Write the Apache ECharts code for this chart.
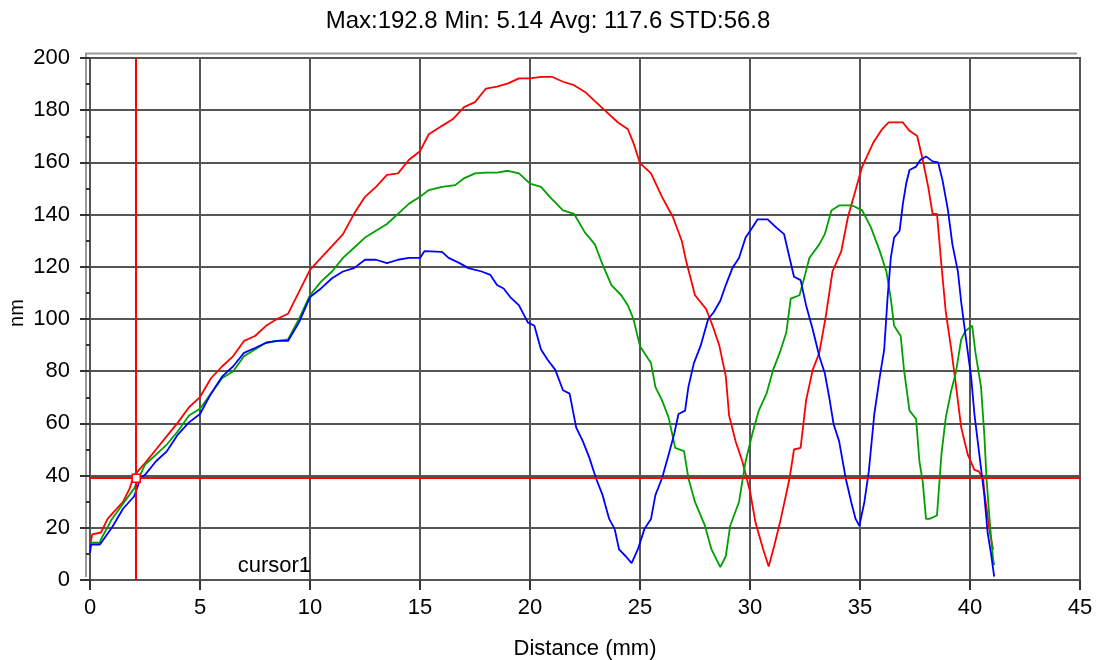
<!DOCTYPE html>
<html>
<head>
<meta charset="utf-8">
<script src="https://cdn.jsdelivr.net/npm/echarts@6/dist/echarts.min.js"></script>
<style>
  html, body { margin: 0; padding: 0; background: #ffffff; }
  #chart { width: 1096px; height: 660px; }
</style>
</head>
<body>
<div id="chart"></div>
<script>
// Profile heights (nm) along the scan distance (mm), one list per trace.
const redProfile = [
  [0,13],[0.1,17.5],[0.5,18.2],[0.8,23.4],[1,25.3],[1.5,29.9],[1.8,35],[2,40],[2.5,44.8],[3,50],
  [3.5,55.2],[4,60.4],[4.5,66.2],[5,70.1],[5.5,77.3],[6,81.8],[6.5,85.7],[7,91.6],[7.5,93.5],[8,97.4],
  [8.5,100],[9,102],[9.5,110.4],[10,118.8],[10.5,123.4],[11,127.9],[11.5,132.5],[12,140.3],[12.5,146.8],[13,150.6],
  [13.5,155.2],[14,155.8],[14.5,161],[15,164.3],[15.4,170.8],[16,174],[16.5,176.6],[17,181.2],[17.5,183.1],[18,188.3],
  [18.5,189],[19,190.3],[19.5,192.2],[20,192.2],[20.5,192.8],[21,192.8],[21.5,190.9],[22,189.6],[22.5,187],[23,183.1],
  [23.5,179.2],[24,175.3],[24.45,172.7],[24.7,167.5],[25,159.7],[25.5,155.8],[26,146.8],[26.5,139],[26.9,129.9],[27.1,122.1],
  [27.5,109.1],[28,103.9],[28.3,97.4],[28.6,90],[28.9,78],[29.05,63],[29.35,53],[29.65,45.5],[30,34],[30.25,22],
  [30.6,11.7],[30.85,5.14],[31.1,13],[31.4,23.4],[31.8,39],[32,50],[32.3,50.6],[32.55,68.8],[32.85,80.5],[33.15,87],
  [33.45,101.3],[33.75,118.2],[34.15,126],[34.45,139],[34.8,149.4],[35.1,158.4],[35.6,167.5],[36,172.7],[36.3,175.3],[36.95,175.3],
  [37.25,172.1],[37.6,170.1],[37.85,161],[38.1,150.6],[38.3,140.3],[38.5,140.3],[38.7,120.8],[38.9,102.6],[39.15,88.3],[39.35,75.3],
  [39.6,58.4],[39.9,48],[40.2,42.2],[40.4,41.6],[40.6,39],[40.65,33.8],[40.9,18.2],[41.05,11.7]
];

const greenProfile = [
  [0,14.3],[0.45,14.3],[0.5,15.6],[1,23.4],[1.5,29.2],[2,35],[2.5,44.2],[3,48],[3.5,52],[4,57.1],
  [4.5,63],[5,65.6],[5.5,71.4],[6,77.3],[6.5,79.9],[7,85.7],[7.5,88.3],[8,90.9],[8.5,91.6],[9,92.2],
  [9.5,100],[10,109.1],[10.5,114.3],[11,118.2],[11.5,123.4],[12,127.3],[12.5,131.2],[13,133.8],[13.5,136.4],[14,140.3],
  [14.5,144.2],[15,146.8],[15.4,149.4],[16,150.6],[16.6,151.3],[17,153.9],[17.5,155.8],[18,156.1],[18.5,156.1],[19,156.8],
  [19.5,155.8],[20,151.9],[20.5,150.6],[20.9,146.8],[21.5,141.6],[22,140.3],[22.5,133.1],[22.95,128.6],[23.3,120.8],[23.7,113],
  [24.15,109.1],[24.45,105.2],[24.7,100],[25,89.6],[25.5,83.1],[25.7,74],[26,68.8],[26.3,62.3],[26.6,50.6],[27,49.4],
  [27.2,39],[27.5,29.9],[27.95,20.8],[28.25,11.7],[28.65,4.9],[28.9,9.1],[29.1,20.8],[29.5,29.9],[29.8,45.5],[30.1,55.8],
  [30.4,64.9],[30.75,71.4],[31.05,80.5],[31.35,87],[31.65,94.8],[31.85,107.8],[32.25,109.1],[32.5,116.9],[32.7,123.4],[33.15,128.6],
  [33.4,132.5],[33.7,141.6],[34.05,143.5],[34.65,143.5],[35.1,141.6],[35.5,135],[35.9,126],[36.2,118.2],[36.4,107.8],[36.55,97.4],
  [36.85,93.5],[37,80.5],[37.25,64.9],[37.55,61.7],[37.7,45.5],[37.85,37.7],[38,23.4],[38.15,23.4],[38.5,24.7],[38.7,48],
  [38.9,62.3],[39.15,72.7],[39.35,79.2],[39.6,92.2],[39.8,95.5],[40.1,97.4],[40.25,87],[40.5,74],[40.65,55.8],[40.75,39],
  [40.9,22],[41.05,8],[41.1,5.7]
];

const blueProfile = [
  [0,10.4],[0.05,13.6],[0.45,13.6],[0.5,14.3],[1,20.1],[1.5,27.3],[2,32],[2.3,39],[2.5,40.3],[3,45.5],
  [3.5,49.4],[4,55.8],[4.5,60.4],[5,63.6],[5.5,71.4],[6,77.9],[6.5,81.8],[7,87],[7.5,88.9],[8,90.9],
  [8.5,91.6],[9,91.6],[9.5,98.7],[10,108.4],[10.5,111.7],[11,115.6],[11.5,118.2],[12,119.5],[12.5,122.7],[13,122.7],
  [13.5,121.4],[14,122.7],[14.5,123.4],[15,123.4],[15.2,126],[16,125.7],[16.3,123.4],[16.8,121.4],[17.2,119.5],[17.8,118.2],
  [18.2,116.9],[18.5,113],[18.8,111.7],[19.1,108.4],[19.5,105.2],[19.9,98.7],[20.2,97.4],[20.5,88.3],[20.8,84.4],[21.15,80.5],
  [21.5,72.7],[21.8,71.4],[22.1,58.4],[22.4,53.2],[22.7,46.8],[23,39],[23.3,32.5],[23.6,23.4],[23.85,19.5],[24.05,11.7],
  [24.35,9.1],[24.62,6.5],[24.9,11.7],[25.2,19.5],[25.5,23.4],[25.7,32.5],[26,39],[26.3,48],[26.55,55.8],[26.75,63.6],
  [27.05,64.9],[27.2,74],[27.45,83.1],[27.75,89.6],[28.1,100],[28.35,102.6],[28.65,107],[28.9,113],[29.2,119.5],[29.5,123.4],
  [29.8,131.2],[30.1,135],[30.35,138.2],[30.8,138.2],[31.2,135],[31.55,132.5],[31.8,123.4],[32,116.2],[32.3,114.9],[32.55,105.2],
  [32.85,96.1],[33.15,85.7],[33.4,79.2],[33.6,70.1],[33.8,59.7],[34.05,53.2],[34.35,39],[34.6,29.9],[34.8,23.4],[34.97,20.8],
  [35.2,29.9],[35.4,41.6],[35.65,63.6],[35.9,77.9],[36.1,88.3],[36.25,107.8],[36.4,123.4],[36.55,131.2],[36.8,133.8],[36.95,144.2],
  [37.1,151.9],[37.25,157.1],[37.55,158.4],[37.75,161],[38,162.3],[38.3,160.4],[38.55,160],[38.75,153.2],[39,141.6],[39.2,128.6],
  [39.45,118.2],[39.6,106.5],[39.8,93.5],[40.05,77.9],[40.2,63.6],[40.35,53.2],[40.5,42.9],[40.65,32.5],[40.8,18.2],[40.95,10.4],
  [41.1,1.3]
];

// Cursor position (distance mm, height nm) and the summary line above the plot.
const cursorPos = [2.1, 39];
const cursorName = 'cursor1';
const statsText = 'Max:192.8 Min: 5.14 Avg: 117.6 STD:56.8';
const xAxisTitle = 'Distance (mm)';
const yAxisTitle = 'nm';

const FONT = '"Liberation Sans", Arial, sans-serif';
const GRID = { left: 90, right: 16, top: 58, bottom: 80 };

const chart = echarts.init(document.getElementById('chart'), null, { renderer: 'canvas' });

function traceSeries(name, data, color) {
  return {
    name: name,
    type: 'line',
    data: data,
    showSymbol: false,
    symbol: 'none',
    smooth: false,
    lineStyle: { color: color, width: 1.8 },
    z: 3,
    silent: true
  };
}

const redSeries = traceSeries('red', redProfile, '#ff0000');
redSeries.markLine = {
  silent: true,
  symbol: 'none',
  animation: false,
  label: { show: false },
  lineStyle: { color: '#ff0000', width: 2, type: 'solid' },
  data: [{ xAxis: cursorPos[0] }, { yAxis: cursorPos[1] }]
};
redSeries.markPoint = {
  silent: true,
  animation: false,
  symbol: 'rect',
  symbolSize: 8,
  label: { show: false },
  itemStyle: { color: '#ffffff', borderColor: '#ff0000', borderWidth: 1.5 },
  data: [{ coord: cursorPos }]
};

chart.setOption({
  animation: false,
  backgroundColor: '#ffffff',
  title: {
    text: statsText,
    left: 'center',
    top: 4,
    textStyle: { fontFamily: FONT, fontSize: 24, fontWeight: 'normal', color: '#000' }
  },
  grid: {
    left: GRID.left, right: GRID.right, top: GRID.top, bottom: GRID.bottom,
    containLabel: false,
    outerBoundsMode: 'none',
    show: true, borderColor: '#4a4a4a', borderWidth: 2, backgroundColor: 'transparent'
  },
  xAxis: {
    type: 'value',
    min: 0, max: 45, interval: 5,
    offset: 5,
    name: xAxisTitle,
    nameLocation: 'middle',
    nameGap: 53,
    nameTextStyle: { fontFamily: FONT, fontSize: 22, color: '#000' },
    axisLine: { show: false },
    axisTick: { show: true, length: 10, lineStyle: { color: '#333', width: 2 } },
    axisLabel: { fontFamily: FONT, fontSize: 22, color: '#000', margin: 12 },
    splitLine: { show: true, lineStyle: { color: '#555', width: 2 } }
  },
  yAxis: {
    type: 'value',
    min: 0, max: 200, interval: 20,
    offset: 4,
    axisLine: { show: false },
    axisTick: { show: true, length: 10, lineStyle: { color: '#333', width: 2 } },
    minorTick: { show: true, splitNumber: 2, length: 4, lineStyle: { color: '#333', width: 2 } },
    axisLabel: { fontFamily: FONT, fontSize: 22, color: '#000', margin: 16 },
    splitLine: { show: true, lineStyle: { color: '#555', width: 2 } }
  },
  series: [
    redSeries,
    traceSeries('green', greenProfile, '#00a000'),
    traceSeries('blue', blueProfile, '#0000ff')
  ]
});

// Raised outer frame edge, the vertical axis title and the cursor caption,
// placed from the grid's own coordinates.
const topLeft = chart.convertToPixel({ gridIndex: 0 }, [0, 200]);
const topRight = chart.convertToPixel({ gridIndex: 0 }, [45, 200]);
const bottomLeft = chart.convertToPixel({ gridIndex: 0 }, [0, 0]);
const captionAnchor = chart.convertToPixel({ gridIndex: 0 }, [10, 0]);

chart.setOption({
  graphic: [
    {
      type: 'polyline',
      silent: true,
      shape: { points: [
        [bottomLeft[0] - 4, bottomLeft[1] - 3],
        [topLeft[0] - 4, topLeft[1] - 4.5],
        [topRight[0] - 3, topRight[1] - 4.5]
      ] },
      style: { stroke: '#9a9a9a', lineWidth: 2, fill: null }
    },
    {
      type: 'text',
      silent: true,
      x: bottomLeft[0] - 73,
      y: (topLeft[1] + bottomLeft[1]) / 2 - 6,
      rotation: Math.PI / 2,
      style: {
        text: yAxisTitle,
        font: '20px ' + FONT,
        fill: '#000',
        align: 'center',
        verticalAlign: 'middle'
      }
    },
    {
      type: 'text',
      silent: true,
      x: captionAnchor[0] + 1,
      y: captionAnchor[1] - 14,
      style: {
        text: cursorName,
        font: '22px ' + FONT,
        fill: '#000',
        align: 'right',
        verticalAlign: 'middle'
      }
    }
  ]
});
</script>
</body>
</html>
